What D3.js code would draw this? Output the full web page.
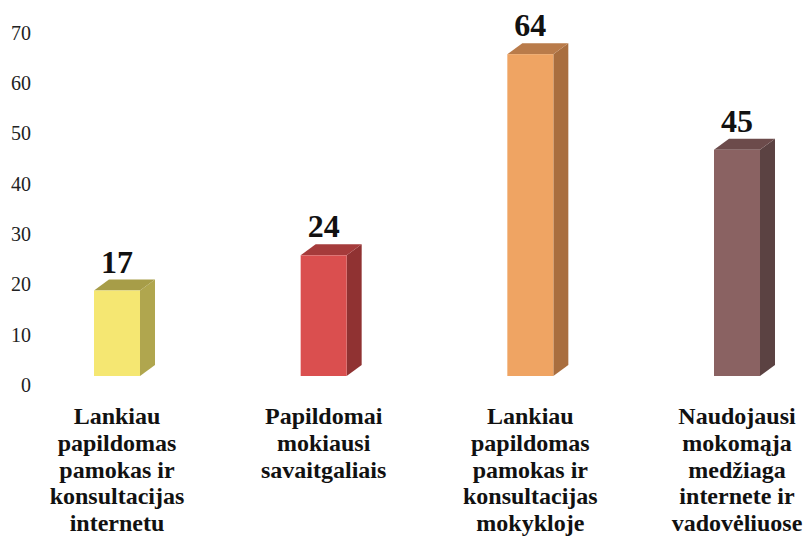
<!DOCTYPE html>
<html>
<head>
<meta charset="utf-8">
<script src="https://cdn.jsdelivr.net/npm/d3@7"></script>
<style>
  html, body { margin: 0; padding: 0; background: #fff; }
  svg { display: block; }
  text { font-family: "Liberation Serif", "Times New Roman", Tinos, "DejaVu Serif", serif; }
</style>
</head>
<body>
<svg id="chart" width="806" height="537"></svg>
<script>
const categories = [
  ["Lankiau", "papildomas", "pamokas ir", "konsultacijas", "internetu"],
  ["Papildomai", "mokiausi", "savaitgaliais"],
  ["Lankiau", "papildomas", "pamokas ir", "konsultacijas", "mokykloje"],
  ["Naudojausi", "mokomąja", "medžiaga", "internete ir", "vadovėliuose"]
];
const values = [17, 24, 64, 45];
const tickValues = [0, 10, 20, 30, 40, 50, 60, 70];
const frontColors = ["#F5E772", "#DA4F4F", "#EFA463", "#8A6262"];
const sideColors  = ["#B0A64E", "#903232", "#A96E3F", "#5B4242"];
const topColors   = ["#A79D48", "#A53B3B", "#B97B4A", "#6C4B4B"];

const svg = d3.select("#chart");
const y = d3.scaleLinear().domain([0, 70]).range([385, 33]);
const x = d3.scalePoint().domain(d3.range(values.length)).range([117, 737]);

const floorShift = 9;   // 3D floor offset
const barW = 46, dx = 15, dy = 11;

// y tick labels (no axis line)
const axis = d3.axisLeft(y).tickValues(tickValues).tickSize(0).tickPadding(0);
const gAxis = svg.append("g").attr("transform", "translate(31,0)").call(axis);
gAxis.select(".domain").remove();
gAxis.attr("font-family", null);
gAxis.selectAll("text")
  .attr("font-size", 20)
  .attr("fill", "#222");

const bars = svg.append("g").selectAll("g").data(values).join("g");

bars.each(function(v, i) {
  const g = d3.select(this);
  const cx = x(i);
  const x0 = cx - barW / 2, x1 = cx + barW / 2;
  const yb = y(0) - floorShift;
  const yt = y(v) - floorShift;
  g.append("path")
    .attr("d", `M${x1},${yt} L${x1 + dx},${yt - dy} L${x1 + dx},${yb - dy} L${x1},${yb} Z`)
    .attr("fill", sideColors[i]);
  g.append("path")
    .attr("d", `M${x0},${yt} L${x0 + dx},${yt - dy} L${x1 + dx},${yt - dy} L${x1},${yt} Z`)
    .attr("fill", topColors[i]);
  g.append("rect")
    .attr("x", x0).attr("y", yt)
    .attr("width", barW).attr("height", yb - yt)
    .attr("fill", frontColors[i]);
  g.append("text")
    .attr("x", cx).attr("y", yt - dy - 7)
    .attr("text-anchor", "middle")
    .attr("font-weight", "bold")
    .attr("font-size", 32)
    .attr("fill", "#111")
    .text(v);
});

const labels = svg.append("g").selectAll("text").data(categories).join("text")
  .attr("x", (d, i) => x(i))
  .attr("y", 424)
  .attr("text-anchor", "middle")
  .attr("font-weight", "bold")
  .attr("font-size", 24)
  .attr("fill", "#111");
labels.each(function(lines, i) {
  d3.select(this).selectAll("tspan").data(lines).join("tspan")
    .attr("x", x(i))
    .attr("dy", (d, j) => j === 0 ? 0 : 26.8)
    .text(d => d);
});
</script>
</body>
</html>
